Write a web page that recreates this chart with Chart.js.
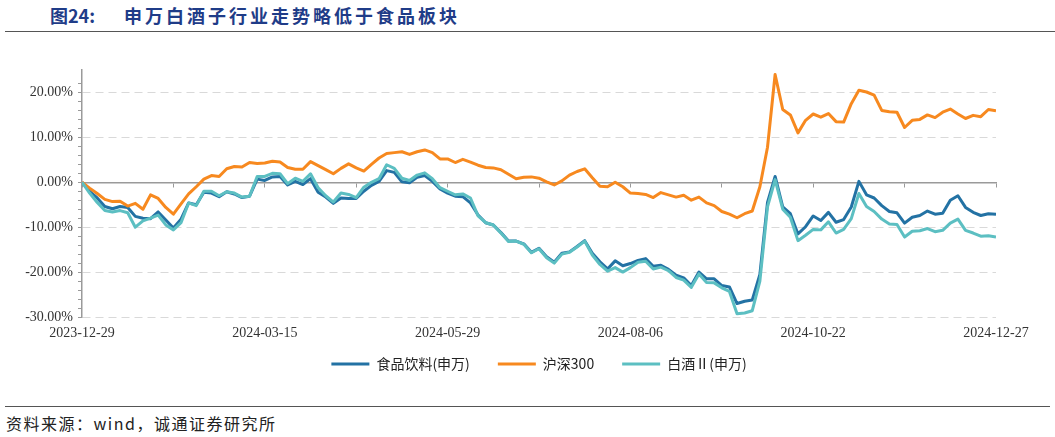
<!DOCTYPE html>
<html>
<head>
<meta charset="utf-8">
<title>申万白酒子行业走势略低于食品板块</title>
<script src="https://cdn.jsdelivr.net/npm/chart.js@4.4.1/dist/chart.umd.min.js"></script>
<style>
    body { margin: 0; background: #fff; width: 1055px; height: 437px; position: relative; overflow: hidden; font-family: "Noto Sans CJK SC", sans-serif; }
    .title { position: absolute; top: 4px; font-size: 18px; font-weight: bold; color: #1f3c88; white-space: nowrap; line-height: 22px; }
    .rule { position: absolute; left: 5px; right: 0; height: 0; border-top: 1.5px solid #555; }
    #wrap { position: absolute; left: 0; top: 40px; width: 1055px; height: 341px; }
    .source { position: absolute; left: 6px; top: 412px; font-size: 16px; letter-spacing: 1.5px; color: #222; line-height: 22px; white-space: nowrap; }
</style>
</head>
<body>
<div class="title" style="left:50px">图24:</div>
<div class="title" style="left:124px; letter-spacing:3px">申万白酒子行业走势略低于食品板块</div>
<div class="rule" style="top:31px"></div>
<div id="wrap"><canvas id="lineChart"></canvas></div>
<div class="rule" style="top:406px; right:5px"></div>
<div class="source">资料来源：wind，诚通证券研究所</div>
<script>
// trading-day index since 2023-12-29, sampled every 2 days
var days = [0, 2, 4, 6, 8, 10, 12, 14, 16, 18, 20, 22, 24, 26, 28, 30, 32, 34, 36, 38,
    40, 42, 44, 46, 48, 50, 52, 54, 56, 58, 60, 62, 64, 66, 68, 70, 72, 74, 76, 78,
    80, 82, 84, 86, 88, 90, 92, 94, 96, 98, 100, 102, 104, 106, 108, 110, 112, 114, 116, 118,
    120, 122, 124, 126, 128, 130, 132, 134, 136, 138, 140, 142, 144, 146, 148, 150, 152, 154, 156, 158,
    160, 162, 164, 166, 168, 170, 172, 174, 176, 178, 180, 182, 184, 186, 188, 190, 192, 194, 196, 198,
    200, 202, 204, 206, 208, 210, 212, 214, 216, 218, 220, 222, 224, 226, 228, 230, 232, 234, 236, 238, 240];

var tickDays = [0, 48, 96, 144, 192, 240];
var tickLabels = ['2023-12-29', '2024-03-15', '2024-05-29', '2024-08-06', '2024-10-22', '2024-12-27'];

var seriesNames = ['食品饮料(申万)', '沪深300', '白酒Ⅱ(申万)'];

// cumulative return, %
var foodBev = [0, -2.0, -3.5, -5.4, -5.9, -5.4, -5.6, -7.6, -8.0, -8.1,
    -6.6, -8.4, -10.2, -8.2, -4.6, -5.0, -2.2, -2.4, -3.2, -2.1,
    -2.6, -3.4, -3.1, 0.7, 0.4, 1.2, 1.3, -0.6, 0.2, -0.5,
    0.8, -2.2, -3.3, -4.7, -3.5, -3.6, -3.6, -2.0, -0.7, 0.2,
    2.6, 2.2, 0.1, -0.1, 1.1, 1.5, 0.2, -1.5, -2.4, -3.1,
    -3.2, -4.6, -7.3, -9.0, -9.5, -11.2, -13.1, -13.1, -13.7, -15.6,
    -14.7, -16.6, -17.8, -15.8, -15.5, -14.3, -13.0, -15.8, -17.7, -19.3,
    -17.5, -18.6, -18.1, -17.4, -17.0, -18.7, -18.5, -19.4, -20.7, -21.3,
    -23.0, -20.0, -21.5, -21.5, -23.0, -23.3, -27.0, -26.5, -26.2, -20.5,
    -4.5, 1.3, -5.5, -7.0, -11.5, -9.9, -7.5, -8.5, -6.7, -8.9,
    -8.3, -5.5, 0.2, -2.8, -3.5, -5.2, -6.5, -6.8, -9.1, -7.8,
    -7.4, -6.4, -7.1, -6.9, -4.0, -3.0, -5.6, -6.7, -7.4, -7.0, -7.1];

var hs300 = [0, -1.3, -2.5, -3.8, -4.3, -4.2, -5.3, -4.7, -6.0, -2.8,
    -3.6, -5.6, -7.1, -4.8, -2.6, -1.0, 0.7, 1.5, 1.3, 3.0,
    3.5, 3.4, 4.4, 4.2, 4.3, 4.7, 4.5, 3.3, 2.9, 2.9,
    4.6, 3.7, 2.8, 1.9, 3.1, 4.1, 3.2, 2.5, 4.0, 5.4,
    6.4, 6.6, 6.8, 6.2, 6.8, 7.2, 6.6, 5.2, 5.2, 4.4,
    5.1, 4.5, 3.8, 3.3, 3.2, 2.8, 1.8, 0.8, 1.1, 1.2,
    0.9, 0.1, -0.6, 0.3, 1.6, 2.4, 3.0, 1.0, -0.9, -1.0,
    0.0, -1.0, -2.4, -2.5, -2.7, -3.4, -2.3, -2.8, -3.3, -2.9,
    -4.0, -3.3, -4.6, -5.2, -6.5, -7.1, -7.9, -7.0, -6.4, -1.0,
    7.8, 24.0, 16.2, 15.0, 11.0, 13.8, 15.2, 14.5, 15.3, 13.5,
    13.4, 17.5, 20.5, 20.1, 19.4, 16.0, 15.7, 15.6, 12.2, 13.8,
    14.0, 15.0, 14.4, 15.6, 16.3, 15.2, 14.2, 14.9, 14.6, 16.2, 15.9];

var baijiu = [0, -2.4, -4.5, -6.3, -6.6, -6.3, -6.8, -10.0, -8.6, -8.0,
    -7.3, -9.5, -10.6, -9.0, -4.6, -5.2, -2.0, -2.0, -3.0, -2.1,
    -2.4, -3.3, -3.1, 1.3, 1.3, 2.0, 1.9, -0.3, 0.9, 0.2,
    1.9, -1.2, -3.0, -4.4, -2.4, -2.7, -3.4, -1.1, 0.0, 0.8,
    3.9, 3.1, 0.9, 0.4, 1.6, 2.1, 0.8, -1.2, -2.0, -2.8,
    -2.6, -3.5, -7.5, -9.0, -9.5, -11.3, -13.2, -13.1, -13.8, -15.7,
    -14.8, -16.8, -18.0, -16.0, -15.6, -14.4, -13.1, -16.2, -18.3, -19.8,
    -19.0, -20.0, -19.0, -17.8, -17.6, -19.3, -18.9, -19.7, -21.2, -21.8,
    -23.4, -20.4, -22.3, -22.4, -23.5, -24.3, -29.3, -29.1, -28.6, -22.0,
    -5.5, 0.6, -6.0, -7.8, -13.0, -11.8, -10.5, -10.6, -8.8, -11.3,
    -10.5, -8.1, -2.5, -5.4, -6.5, -8.2, -9.3, -9.4, -12.2, -10.9,
    -10.8, -10.3, -11.0, -10.7, -9.1, -8.2, -10.7, -11.3, -12.0, -11.9, -12.2];

var colors = ['#2372a4', '#f7891f', '#5cbfc2'];

function makeSet(i, values, order) {
    return {
        label: seriesNames[i],
        data: values,
        borderColor: colors[i],
        backgroundColor: colors[i],
        borderWidth: 3,
        borderJoinStyle: 'round',
        pointRadius: 0,
        tension: 0,
        fill: false,
        order: order
    };
}

function createChart() {
    Chart.defaults.font.family = "'Liberation Serif', serif";
    var ctx = document.getElementById('lineChart').getContext('2d');
    var axisGray = '#9a9a9a';

    var lineChart = new Chart(ctx, {
        type: 'line',
        data: {
            labels: days,
            datasets: [makeSet(0, foodBev, 3), makeSet(1, hs300, 2), makeSet(2, baijiu, 1)]
        },
        options: {
            responsive: true,
            maintainAspectRatio: false,
            animation: false,
            layout: { padding: { left: 0, right: 59, top: 30, bottom: 0 } },
            scales: {
                // data axis, only keeps a gap between the plot and the legend
                x: {
                    type: 'linear',
                    min: 0,
                    max: 240,
                    position: 'bottom',
                    afterFit: function (scale) { scale.height = 12; },
                    ticks: { display: false },
                    grid: { display: false, drawTicks: false },
                    border: { display: false }
                },
                // date labels under the -30% line
                xDates: {
                    type: 'linear',
                    axis: 'x',
                    min: 0,
                    max: 240,
                    position: { y: -30 },
                    afterBuildTicks: function (scale) {
                        scale.ticks = tickDays.map(function (d) { return { value: d }; });
                    },
                    ticks: {
                        autoSkip: false,
                        maxRotation: 0,
                        padding: 8,
                        color: '#333',
                        font: { size: 14 },
                        callback: function (v) { return tickLabels[tickDays.indexOf(v)]; }
                    },
                    grid: { display: false, drawTicks: false },
                    border: { display: false }
                },
                // zero line with its tick marks
                x2: {
                    type: 'linear',
                    axis: 'x',
                    min: 0,
                    max: 240,
                    position: { y: 0 },
                    ticks: { stepSize: 24, display: false },
                    grid: { drawOnChartArea: false, drawTicks: true, tickLength: 4, tickColor: axisGray, tickWidth: 1 },
                    border: { color: axisGray, width: 1.5 }
                },
                y: {
                    min: -30,
                    max: 25,
                    afterFit: function (scale) { scale.width = 82; },
                    afterBuildTicks: function (scale) {
                        scale.ticks = scale.ticks.filter(function (t) { return t.value <= 24; });
                    },
                    ticks: {
                        stepSize: 2,
                        autoSkip: false,
                        padding: 5,
                        color: '#333',
                        font: { size: 14 },
                        callback: function (v) { return v % 10 === 0 ? v.toFixed(2) + '%' : ''; }
                    },
                    grid: {
                        color: function (c) {
                            if (c.tick && c.tick.value % 10 === 0 && c.tick.value !== 0) return '#d9d9d9';
                            return 'rgba(0,0,0,0)';
                        },
                        lineWidth: 1,
                        tickLength: 4,
                        tickColor: axisGray
                    },
                    border: { color: axisGray, width: 1.5, dash: [8, 5] }
                }
            },
            plugins: {
                tooltip: { enabled: false },
                legend: {
                    position: 'bottom',
                    fullSize: false,
                    labels: {
                        boxWidth: 38,
                        boxHeight: 3,
                        padding: 28,
                        color: '#222',
                        font: { family: "'Noto Sans CJK SC', sans-serif", size: 14 },
                        sort: function (a, b) { return a.datasetIndex - b.datasetIndex; },
                        generateLabels: function (chart) {
                            var items = Chart.defaults.plugins.legend.labels.generateLabels(chart);
                            items.forEach(function (it) { it.fillStyle = it.strokeStyle; it.lineWidth = 0; });
                            return items;
                        }
                    }
                }
            }
        }
    });
    console.log('chart ready', lineChart.chartArea);
}

createChart();
</script>
</body>
</html>
